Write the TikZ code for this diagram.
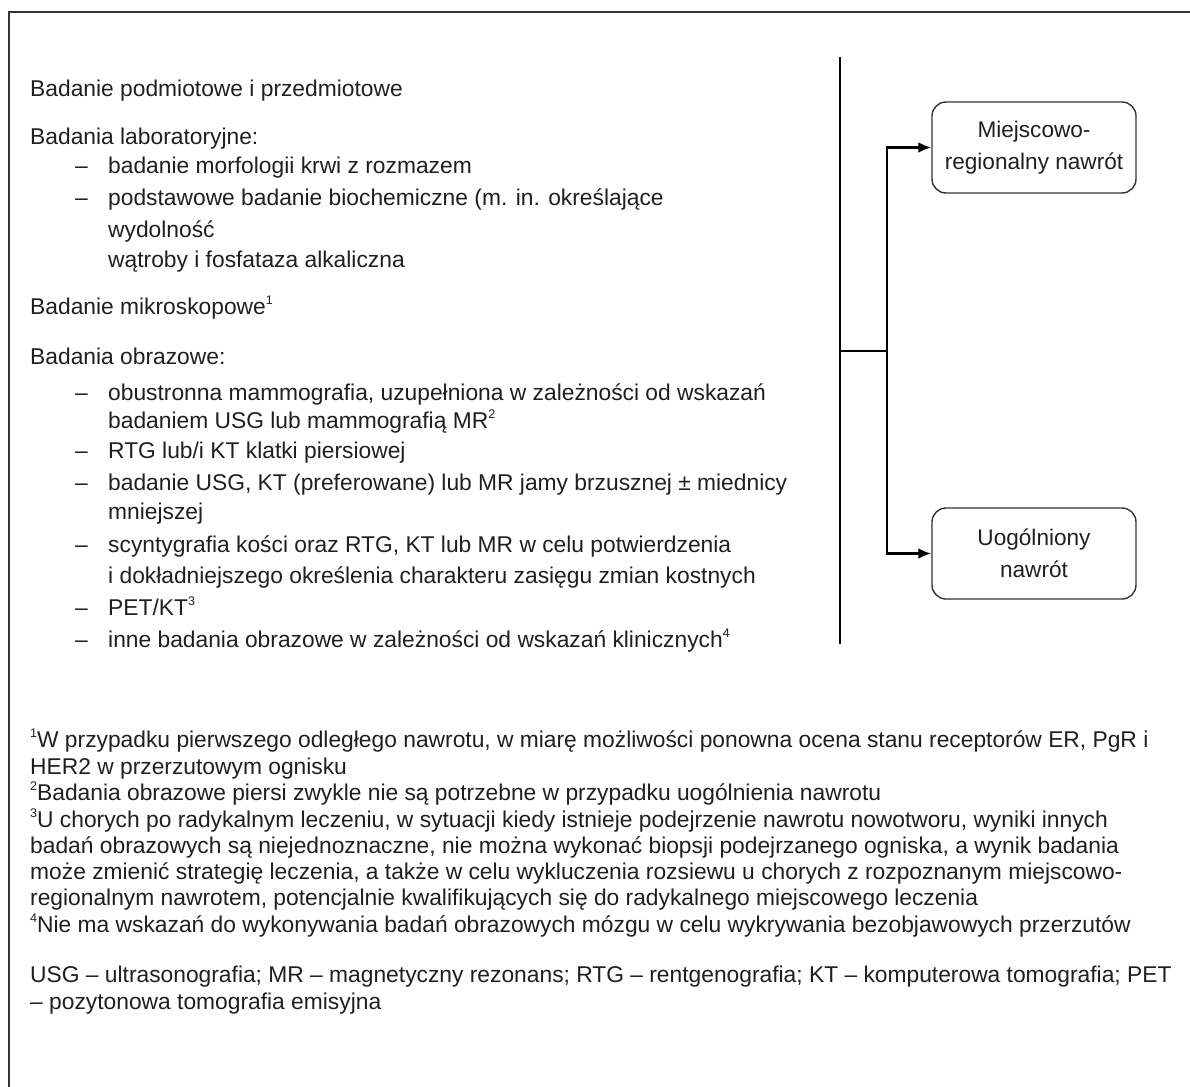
\documentclass[tikz,border=0pt]{standalone}
\usepackage{fontspec}
\setmainfont{Liberation Sans}
\usetikzlibrary{arrows.meta}
% small raised reference number
\newcommand{\refmark}[1]{\raisebox{0.42em}{\fontsize{12.5}{12.5}\selectfont #1}}
\begin{document}
\begin{tikzpicture}[x=1pt,y=-1pt,
  txt/.style={anchor=base west,inner sep=0pt,text=black!88,font=\fontsize{22.8}{26}\selectfont},
  dashmark/.style={anchor=base west,inner sep=0pt,text=black!88,font=\fontsize{22.8}{26}\selectfont},
  outcome/.style={draw=black!80,line width=1.4pt,rounded corners=14pt,minimum width=204pt,
    minimum height=91pt,align=center,text=black!88,font=\fontsize{22.6}{32}\selectfont},
  trunk/.style={line width=2.8pt,black},
  branch/.style={line width=2.8pt,black,-{Latex[length=13pt,width=11pt]}}
]
\useasboundingbox (0,0) rectangle (1190,1086);
\clip (0,0) rectangle (1190,1086);
% outer frame
\draw[line width=1.8pt,black!80] (9,12) rectangle (1210,1110);

% examination list
\node[txt] (t1) at (30,97) {Badanie podmiotowe i przedmiotowe};
\node[txt] (t2) at (30,145) {Badania laboratoryjne:};
\node[dashmark] (d1) at (75,174) {–};
\node[txt] (t3) at (108,174) {badanie morfologii krwi z rozmazem};
\node[dashmark] (d2) at (75,205) {–};
\node[txt] (t4) at (108,205) {podstawowe badanie biochemiczne (m. in. określające};
\node[txt] (t5) at (108,237) {wydolność};
\node[txt] (t6) at (108,267) {wątroby i fosfataza alkaliczna};
\node[txt] (t7) at (30,314) {Badanie mikroskopowe\refmark{1}};
\node[txt] (t8) at (30,364) {Badania obrazowe:};
\node[dashmark] (d3) at (75,400) {–};
\node[txt] (t9) at (108,400) {obustronna mammografia, uzupełniona w zależności od wskazań};
\node[txt] (t10) at (108,428) {badaniem USG lub mammografią MR\refmark{2}};
\node[dashmark] (d4) at (75,458) {–};
\node[txt] (t11) at (108,458) {RTG lub/i KT klatki piersiowej};
\node[dashmark] (d5) at (75,490) {–};
\node[txt] (t12) at (108,490) {badanie USG, KT (preferowane) lub MR jamy brzusznej ± miednicy};
\node[txt] (t13) at (108,519) {mniejszej};
\node[dashmark] (d6) at (75,552) {–};
\node[txt] (t14) at (108,552) {scyntygrafia kości oraz RTG, KT lub MR w celu potwierdzenia};
\node[txt] (t15) at (108,583) {i dokładniejszego określenia charakteru zasięgu zmian kostnych};
\node[dashmark] (d7) at (75,615) {–};
\node[txt] (t16) at (108,615) {PET/KT\refmark{3}};
\node[dashmark] (d8) at (75,647) {–};
\node[txt] (t17) at (108,647) {inne badania obrazowe w zależności od wskazań klinicznych\refmark{4}};

% outcomes
\node[outcome] (local) at (1034,147.5) {Miejscowo-\\regionalny nawrót};
\node[outcome] (gen) at (1034,553.5) {Uogólniony\\nawrót};

% connectors
\coordinate (vtop) at (840,57);
\coordinate (vbot) at (840,644);
\coordinate (vmid) at (840,351);
\coordinate (fork) at (887,351);
\draw[trunk] (vtop) -- (vbot);
\draw[trunk] (vmid) -- (fork);
\draw[branch] (fork) |- (local.west);
\draw[branch] (fork) |- (gen.west);

% footnotes
\node[txt] (f1) at (30,747) {\refmark{1}W przypadku pierwszego odległego nawrotu, w miarę możliwości ponowna ocena stanu receptorów ER, PgR i};
\node[txt] (f2) at (30,774) {HER2 w przerzutowym ognisku};
\node[txt] (f3) at (30,800) {\refmark{2}Badania obrazowe piersi zwykle nie są potrzebne w przypadku uogólnienia nawrotu};
\node[txt] (f4) at (30,827) {\refmark{3}U chorych po radykalnym leczeniu, w sytuacji kiedy istnieje podejrzenie nawrotu nowotworu, wyniki innych};
\node[txt] (f5) at (30,853) {badań obrazowych są niejednoznaczne, nie można wykonać biopsji podejrzanego ogniska, a wynik badania};
\node[txt] (f6) at (30,879) {może zmienić strategię leczenia, a także w celu wykluczenia rozsiewu u chorych z rozpoznanym miejscowo-};
\node[txt] (f7) at (30,905) {regionalnym nawrotem, potencjalnie kwalifikujących się do radykalnego miejscowego leczenia};
\node[txt] (f8) at (30,932) {\refmark{4}Nie ma wskazań do wykonywania badań obrazowych mózgu w celu wykrywania bezobjawowych przerzutów};
\node[txt] (a1) at (30,982) {USG – ultrasonografia; MR – magnetyczny rezonans; RTG – rentgenografia; KT – komputerowa tomografia; PET};
\node[txt] (a2) at (30,1009) {– pozytonowa tomografia emisyjna};
\end{tikzpicture}
\end{document}
